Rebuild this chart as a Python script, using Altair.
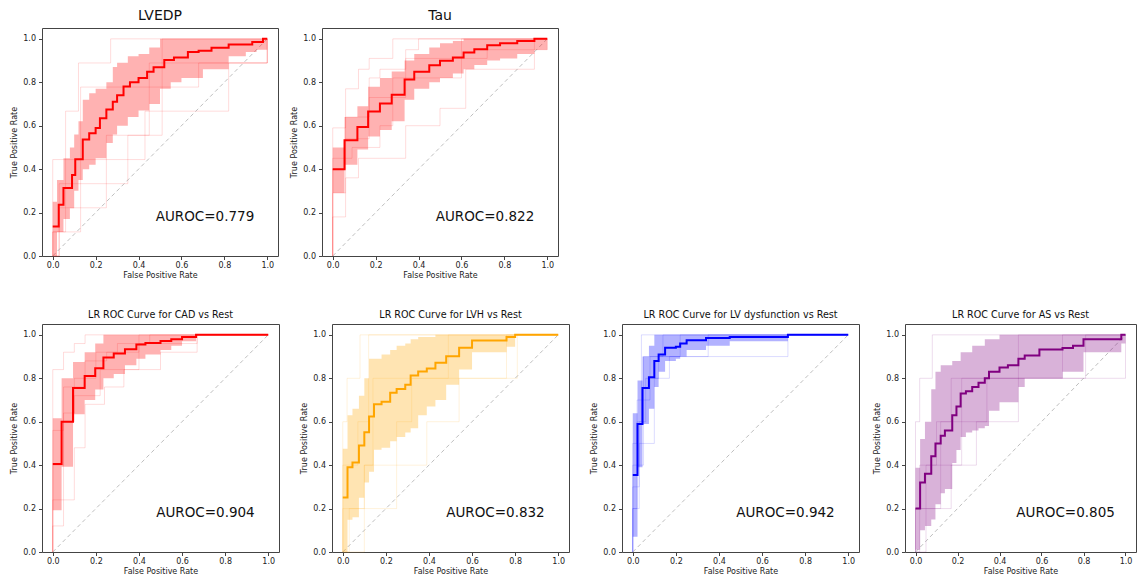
import altair as alt
import pandas as pd

FONT = "DejaVu Sans"
TICKS = [0.0, 0.2, 0.4, 0.6, 0.8, 1.0]

TITLES = ["LVEDP", "Tau", "LR ROC Curve for CAD vs Rest", "LR ROC Curve for LVH vs Rest",
          "LR ROC Curve for LV dysfunction vs Rest", "LR ROC Curve for AS vs Rest"]
COLORS = ["red", "red", "red", "orange", "blue", "purple"]
AUROCS = [0.779, 0.822, 0.904, 0.832, 0.942, 0.805]

# ---------------- LVEDP ----------------
LVEDP_MEAN_FPR = [0, 0.028, 0.05, 0.09, 0.105, 0.14, 0.17, 0.2, 0.22, 0.25, 0.28, 0.3, 0.33, 0.36,
                  0.40, 0.44, 0.47, 0.52, 0.565, 0.63, 0.68, 0.74, 0.82, 0.93, 0.98, 1.0]
LVEDP_MEAN_TPR = [0.136, 0.236, 0.313, 0.373, 0.446, 0.536, 0.565, 0.589, 0.634, 0.675, 0.71, 0.74,
                  0.781, 0.80, 0.82, 0.849, 0.869, 0.903, 0.914, 0.94, 0.945, 0.959, 0.974, 0.985, 1.0, 1.0]
LVEDP_BAND_FPR = [0, 0.02, 0.05, 0.08, 0.10, 0.12, 0.14, 0.17, 0.2, 0.25, 0.28, 0.3, 0.35, 0.4, 0.45,
                  0.5, 0.55, 0.6, 0.7, 0.82, 0.9, 0.95, 1.0]
LVEDP_BAND_LO = [0.0, 0.11, 0.17, 0.22, 0.30, 0.35, 0.40, 0.42, 0.45, 0.52, 0.56, 0.60, 0.64, 0.67, 0.70,
                 0.77, 0.80, 0.82, 0.86, 0.92, 0.94, 0.95, 1.0]
LVEDP_BAND_HI = [0.25, 0.35, 0.45, 0.50, 0.56, 0.62, 0.72, 0.75, 0.77, 0.80, 0.87, 0.89, 0.92, 0.93, 0.96,
                 1.0, 1.0, 1.0, 1.0, 1.0, 1.0, 1.0, 1.0]
LVEDP_FOLD_FPR = [[0, 0, 0.43, 0.82, 1.0],
                  [0, 0, 0.13, 0.68, 1.0],
                  [0, 0.03, 0.35, 0.51, 1.0],
                  [0, 0.03, 0.06, 0.12, 0.27, 1.0],
                  [0, 0, 0.06, 0.25, 0.45, 1.0]]
LVEDP_FOLD_TPR = [[0, 0.444, 0.667, 0.889, 1.0],
                  [0, 0.111, 0.778, 0.889, 1.0],
                  [0, 0.333, 0.556, 1.0, 1.0],
                  [0, 0.222, 0.667, 0.889, 1.0, 1.0],
                  [0, 0.111, 0.222, 0.556, 0.889, 1.0]]

# ---------------- Tau ----------------
TAU_MEAN_FPR = [0, 0.055, 0.115, 0.165, 0.22, 0.275, 0.335, 0.38, 0.45, 0.5, 0.56, 0.61, 0.66, 0.72,
                0.78, 0.86, 0.94, 1.0]
TAU_MEAN_TPR = [0.40, 0.533, 0.594, 0.665, 0.702, 0.743, 0.813, 0.849, 0.879, 0.899, 0.914, 0.937,
                0.952, 0.97, 0.98, 0.99, 1.0, 1.0]
TAU_BAND_FPR = [0, 0.055, 0.115, 0.165, 0.22, 0.275, 0.335, 0.38, 0.45, 0.5, 0.56, 0.61, 0.66, 0.72,
                0.78, 0.86, 0.94, 1.0]
TAU_BAND_LO = [0.29, 0.42, 0.49, 0.55, 0.58, 0.62, 0.72, 0.77, 0.80, 0.82, 0.84, 0.86, 0.88, 0.90,
               0.91, 0.93, 0.95, 1.0]
TAU_BAND_HI = [0.50, 0.64, 0.69, 0.78, 0.82, 0.85, 0.90, 0.93, 0.96, 0.98, 0.99, 1.0, 1.0, 1.0,
               1.0, 1.0, 1.0, 1.0]
TAU_FOLD_FPR = [[0, 0, 0.06, 0.12, 0.17, 0.28, 1.0],
                [0, 0, 0.06, 0.12, 0.34, 0.5, 0.62, 0.94, 1.0],
                [0, 0, 0.06, 0.17, 0.22, 0.34, 0.4, 1.0],
                [0, 0, 0.09, 0.22, 0.28, 0.6, 1.0],
                [0, 0, 0.06, 0.17, 0.34, 0.72, 1.0]]
TAU_FOLD_TPR = [[0, 0.59, 0.77, 0.86, 0.91, 1.0, 1.0],
                [0, 0.18, 0.36, 0.45, 0.60, 0.68, 0.86, 1.0, 1.0],
                [0, 0.29, 0.54, 0.82, 0.86, 0.95, 1.0, 1.0],
                [0, 0.45, 0.50, 0.60, 0.82, 1.0, 1.0],
                [0, 0.40, 0.64, 0.73, 0.91, 0.95, 1.0]]

# ---------------- CAD ----------------
CAD_MEAN_FPR = [0, 0.041, 0.094, 0.148, 0.197, 0.235, 0.283, 0.335, 0.388, 0.43, 0.5, 0.55, 0.6,
                0.665, 1.0]
CAD_MEAN_TPR = [0.405, 0.60, 0.755, 0.811, 0.846, 0.896, 0.914, 0.934, 0.956, 0.962, 0.972, 0.98,
                0.99, 1.0, 1.0]
CAD_BAND_FPR = [0, 0.041, 0.094, 0.148, 0.197, 0.235, 0.283, 0.335, 0.388, 0.43, 0.5, 0.55, 0.6,
                0.665, 1.0]
CAD_BAND_LO = [0.192, 0.393, 0.634, 0.70, 0.748, 0.80, 0.82, 0.86, 0.89, 0.91, 0.93, 0.95, 0.97, 1.0, 1.0]
CAD_BAND_HI = [0.616, 0.80, 0.875, 0.92, 0.96, 1.0, 1.0, 1.0, 1.0, 1.0, 1.0, 1.0, 1.0, 1.0, 1.0]
CAD_FOLD_FPR = [[0, 0, 0.05, 0.1, 0.15, 1.0],
                [0, 0, 0.05, 0.1, 0.2, 0.25, 0.4, 1.0],
                [0, 0, 0.1, 0.15, 0.24, 0.33, 0.5, 0.67, 1.0],
                [0, 0, 0.05, 0.1, 0.22, 0.4, 0.67, 1.0],
                [0, 0, 0.05, 0.15, 0.2, 0.3, 0.45, 1.0]]
CAD_FOLD_TPR = [[0, 0.84, 0.92, 0.96, 1.0, 1.0],
                [0, 0.4, 0.64, 0.8, 0.88, 0.92, 1.0, 1.0],
                [0, 0.24, 0.48, 0.68, 0.76, 0.84, 0.92, 1.0, 1.0],
                [0, 0.12, 0.6, 0.72, 0.84, 0.96, 1.0, 1.0],
                [0, 0.56, 0.76, 0.88, 0.92, 0.96, 1.0, 1.0]]

# ---------------- LVH ----------------
LVH_MEAN_FPR = [0, 0.022, 0.045, 0.075, 0.10, 0.122, 0.145, 0.18, 0.22, 0.25, 0.29, 0.315, 0.35,
                0.39, 0.43, 0.48, 0.54, 0.60, 0.76, 0.80, 1.0]
LVH_MEAN_TPR = [0.251, 0.39, 0.412, 0.49, 0.551, 0.624, 0.68, 0.692, 0.733, 0.751, 0.77, 0.813,
                0.831, 0.845, 0.872, 0.902, 0.941, 0.974, 0.99, 1.0, 1.0]
LVH_BAND_FPR = [0, 0.022, 0.045, 0.075, 0.10, 0.122, 0.145, 0.18, 0.22, 0.25, 0.29, 0.315, 0.35,
                0.39, 0.43, 0.48, 0.54, 0.60, 0.76, 0.80, 1.0]
LVH_BAND_LO = [0.0, 0.148, 0.16, 0.25, 0.32, 0.37, 0.471, 0.48, 0.51, 0.53, 0.55, 0.57, 0.63, 0.67,
               0.70, 0.77, 0.84, 0.92, 0.945, 1.0, 1.0]
LVH_BAND_HI = [0.476, 0.63, 0.66, 0.72, 0.80, 0.89, 0.89, 0.91, 0.93, 0.95, 0.96, 0.98, 0.99, 0.99,
               1.0, 1.0, 1.0, 1.0, 1.0, 1.0, 1.0]
LVH_FOLD_FPR = [[0, 0, 0.02, 0.08, 1.0],
                [0, 0, 0.1, 0.14, 0.49, 1.0],
                [0, 0.1, 0.39, 0.54, 0.76, 1.0],
                [0, 0, 0.07, 0.12, 1.0],
                [0, 0.03, 0.25, 0.32, 0.81, 1.0]]
LVH_FOLD_TPR = [[0, 0.6, 0.8, 1.0, 1.0],
                [0, 0.2, 0.4, 0.8, 1.0, 1.0],
                [0, 0.4, 0.6, 0.8, 1.0, 1.0],
                [0, 0.4, 0.6, 1.0, 1.0],
                [0, 0.2, 0.6, 0.8, 1.0, 1.0]]

# ---------------- LV dysfunction ----------------
LVD_MEAN_FPR = [0, 0.022, 0.045, 0.075, 0.10, 0.12, 0.15, 0.2, 0.22, 0.25, 0.34, 0.45, 0.72, 1.0]
LVD_MEAN_TPR = [0.355, 0.589, 0.755, 0.805, 0.88, 0.91, 0.941, 0.945, 0.96, 0.975, 0.985, 0.99,
                1.0, 1.0]
LVD_BAND_FPR = [0, 0.022, 0.045, 0.075, 0.10, 0.12, 0.15, 0.2, 0.22, 0.25, 0.34, 0.45, 0.72, 1.0]
LVD_BAND_LO = [0.07, 0.39, 0.59, 0.66, 0.76, 0.83, 0.88, 0.89, 0.90, 0.93, 0.95, 0.97, 1.0, 1.0]
LVD_BAND_HI = [0.639, 0.79, 0.90, 0.95, 1.0, 1.0, 1.0, 1.0, 1.0, 1.0, 1.0, 1.0, 1.0, 1.0]
LVD_FOLD_FPR = [[0, 0, 0.02, 0.05, 0.14, 1.0],
                [0, 0, 0.03, 0.06, 0.12, 0.22, 1.0],
                [0, 0, 0.05, 0.08, 0.72, 1.0],
                [0, 0, 0.03, 0.1, 0.17, 0.35, 1.0],
                [0, 0, 0.02, 0.04, 1.0]]
LVD_FOLD_TPR = [[0, 0.5, 0.7, 0.9, 1.0, 1.0],
                [0, 0.2, 0.6, 0.8, 0.9, 1.0, 1.0],
                [0, 0.4, 0.7, 0.9, 1.0, 1.0],
                [0, 0.3, 0.5, 0.8, 0.9, 1.0, 1.0],
                [0, 0.2, 0.6, 1.0, 1.0]]

# ---------------- AS ----------------
AS_MEAN_FPR = [0, 0.022, 0.045, 0.075, 0.095, 0.12, 0.14, 0.175, 0.195, 0.215, 0.24, 0.27, 0.30,
               0.33, 0.35, 0.40, 0.44, 0.49, 0.52, 0.59, 0.70, 0.75, 0.80, 0.98, 1.0]
AS_MEAN_TPR = [0.20, 0.32, 0.36, 0.441, 0.50, 0.535, 0.56, 0.63, 0.67, 0.73, 0.74, 0.76, 0.78,
               0.80, 0.83, 0.85, 0.86, 0.89, 0.905, 0.933, 0.94, 0.95, 0.98, 1.0, 1.0]
AS_BAND_FPR = [0, 0.022, 0.045, 0.075, 0.095, 0.12, 0.14, 0.175, 0.195, 0.215, 0.24, 0.27, 0.30,
               0.33, 0.35, 0.40, 0.44, 0.49, 0.52, 0.59, 0.70, 0.75, 0.80, 0.98, 1.0]
AS_BAND_LO = [0.01, 0.10, 0.12, 0.15, 0.22, 0.27, 0.29, 0.41, 0.47, 0.53, 0.55, 0.56, 0.57, 0.58,
              0.65, 0.69, 0.69, 0.76, 0.80, 0.80, 0.83, 0.83, 0.92, 0.96, 1.0]
AS_BAND_HI = [0.388, 0.52, 0.60, 0.75, 0.83, 0.86, 0.86, 0.88, 0.88, 0.92, 0.92, 0.95, 0.95, 0.98,
              0.98, 1.0, 1.0, 1.0, 1.0, 1.0, 1.0, 1.0, 1.0, 1.0, 1.0]
AS_FOLD_FPR = [[0, 0, 0.02, 0.08, 1.0],
               [0, 0, 0.17, 0.22, 0.49, 1.0],
               [0, 0.05, 0.29, 0.34, 0.7, 1.0],
               [0, 0, 0.12, 0.17, 0.81, 1.0],
               [0, 0.02, 0.1, 0.49, 1.0]]
AS_FOLD_TPR = [[0, 0.6, 0.8, 1.0, 1.0],
               [0, 0.2, 0.4, 0.8, 1.0, 1.0],
               [0, 0.4, 0.6, 0.8, 1.0, 1.0],
               [0, 0.2, 0.6, 0.8, 1.0, 1.0],
               [0, 0.4, 0.6, 0.8, 1.0]]

DIAG_FPR = [0.0, 1.0]
DIAG_TPR = [0.0, 1.0]
TEXT_POS = [0.48, 0.18]


def make_panel(idx, mfpr, mtpr, bfpr, blo, bhi, ffpr, ftpr, w, h, tsize, toffset):
    color = COLORS[idx]
    mean_df = pd.DataFrame({"fpr": mfpr, "tpr": mtpr, "i": list(range(len(mfpr)))})
    band_df = pd.DataFrame({"fpr": bfpr, "tpr": blo, "tpr2": bhi})
    rows = []
    for k, (fx, fy) in enumerate(zip(ffpr, ftpr)):
        for i, (a, b) in enumerate(zip(fx, fy)):
            rows.append({"fold": k, "i": i, "fpr": a, "tpr": b})
    fold_df = pd.DataFrame(rows)
    diag_df = pd.DataFrame({"fpr": DIAG_FPR, "tpr": DIAG_TPR, "i": [0, 1]})
    text_df = pd.DataFrame({"fpr": [TEXT_POS[0]], "tpr": [TEXT_POS[1]],
                            "label": [f"AUROC={AUROCS[idx]:.3f}"]})

    xs = alt.Scale(domain=[-0.05, 1.05], nice=False, zero=False)
    ys = alt.Scale(domain=[0, 1.05], nice=False, zero=False)
    xax = alt.Axis(title="False Positive Rate", values=TICKS, format=".1f", labelPadding=2, titlePadding=2)
    yax = alt.Axis(title="True Positive Rate", values=TICKS, format=".1f", labelPadding=3, titlePadding=4)
    X = alt.X("fpr:Q", scale=xs, axis=xax)
    Y = alt.Y("tpr:Q", scale=ys, axis=yax)

    folds = alt.Chart(fold_df).mark_line(interpolate="step-after", color=color, opacity=0.14,
                                         strokeWidth=1).encode(x=X, y=Y, detail="fold:N", order="i:Q")
    diag = alt.Chart(diag_df).mark_line(color="#999999", strokeDash=[4, 3], strokeWidth=0.8,
                                        opacity=0.8).encode(x=X, y=Y, order="i:Q")
    band = alt.Chart(band_df).mark_area(interpolate="step-after", color=color, opacity=0.3).encode(
        x=X, y=Y, y2="tpr2:Q")
    mean = alt.Chart(mean_df).mark_line(interpolate="step-after", color=color, strokeWidth=2).encode(
        x=X, y=Y, order="i:Q")
    text = alt.Chart(text_df).mark_text(align="left", baseline="middle", fontSize=13.5, font=FONT,
                                        color="#111111").encode(x=X, y=Y, text="label:N")
    return alt.layer(folds, diag, band, mean, text).properties(
        width=w, height=h,
        title=alt.TitleParams(TITLES[idx], fontSize=tsize, offset=toffset, font=FONT,
                              fontWeight="normal", color="#111111"))


TW, TH = 236, 228
BW, BH = 237, 228
p1 = make_panel(0, LVEDP_MEAN_FPR, LVEDP_MEAN_TPR, LVEDP_BAND_FPR, LVEDP_BAND_LO, LVEDP_BAND_HI,
                LVEDP_FOLD_FPR, LVEDP_FOLD_TPR, TW, TH, 14, 5)
p2 = make_panel(1, TAU_MEAN_FPR, TAU_MEAN_TPR, TAU_BAND_FPR, TAU_BAND_LO, TAU_BAND_HI,
                TAU_FOLD_FPR, TAU_FOLD_TPR, TW, TH, 14, 5)
p3 = make_panel(2, CAD_MEAN_FPR, CAD_MEAN_TPR, CAD_BAND_FPR, CAD_BAND_LO, CAD_BAND_HI,
                CAD_FOLD_FPR, CAD_FOLD_TPR, BW, BH, 9.6, 4)
p4 = make_panel(3, LVH_MEAN_FPR, LVH_MEAN_TPR, LVH_BAND_FPR, LVH_BAND_LO, LVH_BAND_HI,
                LVH_FOLD_FPR, LVH_FOLD_TPR, BW, BH, 9.6, 4)
p5 = make_panel(4, LVD_MEAN_FPR, LVD_MEAN_TPR, LVD_BAND_FPR, LVD_BAND_LO, LVD_BAND_HI,
                LVD_FOLD_FPR, LVD_FOLD_TPR, BW, BH, 9.6, 4)
p6 = make_panel(5, AS_MEAN_FPR, AS_MEAN_TPR, AS_BAND_FPR, AS_BAND_LO, AS_BAND_HI,
                AS_FOLD_FPR, AS_FOLD_TPR, 231, BH, 9.6, 4)

top = alt.hconcat(p1, p2, spacing=11)
bottom = alt.hconcat(alt.hconcat(p3, p4, p5, spacing=20), p6, spacing=13)
chart = alt.vconcat(top, bottom, spacing=29).properties(
    padding={"left": 2, "top": 0, "right": 0, "bottom": 0}, background="white"
).configure_view(stroke="#444444", strokeWidth=1).configure_axis(
    labelFont=FONT, titleFont=FONT, labelFontSize=8, titleFontSize=8, titleFontWeight="normal",
    labelColor="#222222", titleColor="#222222", tickColor="#444444", tickSize=3.5, domain=False,
    grid=False, labelFlush=False
).configure_concat(spacing=11)

chart.save("out.html", embed_options={"renderer": "svg", "actions": False})
